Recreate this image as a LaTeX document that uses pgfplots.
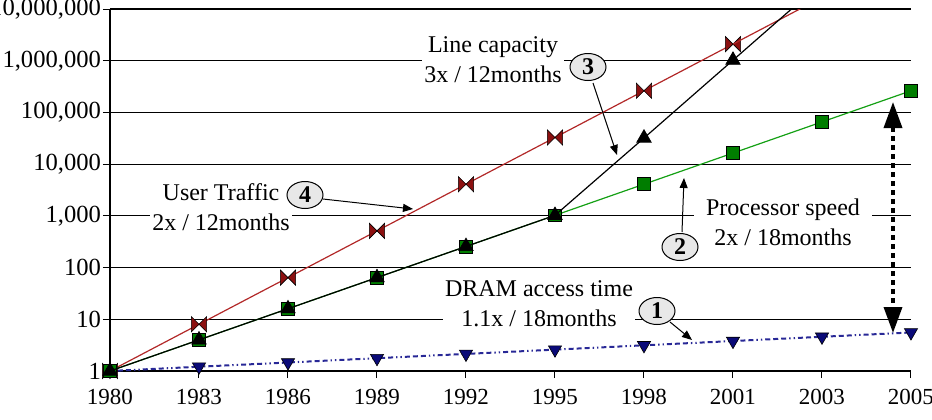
\documentclass[border=0pt]{standalone}
\usepackage{pgfplots}
\pgfplotsset{compat=1.18}
\usepackage{fontspec}
\setmainfont{Liberation Serif}
\usetikzlibrary{arrows.meta,shapes.geometric}

\definecolor{redline}{RGB}{178,40,40}
\definecolor{redmark}{RGB}{140,16,16}
\definecolor{greenline}{RGB}{20,160,20}
\definecolor{greenmark}{RGB}{0,125,0}
\definecolor{blueline}{RGB}{40,40,150}
\definecolor{bluemark}{RGB}{10,10,120}

\pgfdeclareplotmark{bowtie}{%
  \pgfpathmoveto{\pgfqpoint{-\pgfplotmarksize}{\pgfplotmarksize}}%
  \pgfpathlineto{\pgfqpoint{\pgfplotmarksize}{-\pgfplotmarksize}}%
  \pgfpathlineto{\pgfqpoint{\pgfplotmarksize}{\pgfplotmarksize}}%
  \pgfpathlineto{\pgfqpoint{-\pgfplotmarksize}{-\pgfplotmarksize}}%
  \pgfpathclose
  \pgfusepathqfillstroke}

\begin{document}
\begin{tikzpicture}
\begin{axis}[
  scale only axis, width=400.5pt, height=181pt,
  xmin=0, xmax=9, ymode=log, ymin=1, ymax=1e7,
  axis lines=left, axis line style={-, line width=0.6pt},
  xtick={0,...,9},
  xticklabels={1980,1983,1986,1989,1992,1995,1998,2001,2003,2005},
  ytick={1,10,100,1000,10000,100000,1000000,10000000},
  yticklabels={1,10,100,{1,000},{10,000},{100,000},{1,000,000},{10,000,000}},
  yminorticks=false,
  ymajorgrids, major grid style={black, line width=0.6pt},
  tick align=outside, major tick length=3.5pt,
  tick style={black, line width=0.5pt},
  xticklabel style={font=\fontsize{11.5}{13}\selectfont, yshift=-2pt},
  yticklabel style={font=\fontsize{12.3}{13}\selectfont, xshift=2.5pt},
  /pgf/number format/assume math mode=true,
  clip mode=individual,
]
% DRAM access time
\addplot[blueline, line width=1pt,
  dash pattern=on 2.5pt off 1.5pt on 2.5pt off 1.5pt on 2.5pt off 1.5pt on 0.7pt off 1.5pt on 0.7pt off 1.5pt,
  mark=triangle*, mark size=3.8pt,
  mark options={solid, rotate=180, fill=bluemark, draw=black, line width=0.3pt}]
  coordinates {(0,1)(1,1.21)(2,1.46)(3,1.77)(4,2.14)(5,2.59)(6,3.14)(7,3.80)(8,4.59)(9,5.56)};
% User traffic
\addplot[redline, line width=0.6pt, mark=bowtie, mark size=3.8pt,
  mark options={fill=redmark, draw=black, line width=0.3pt}]
  coordinates {(0,1)(1,8)(2,64)(3,512)(4,4096)(5,32768)(6,262144)(7,2097152)};
\addplot[redline, line width=0.6pt, no marks]
  coordinates {(7,2097152)(8,16777216)};
% Processor speed
\addplot[greenline, line width=0.6pt, mark=square*, mark size=3.2pt,
  mark options={fill=greenmark, draw=black, line width=0.3pt}]
  coordinates {(0,1)(1,4)(2,16)(3,64)(4,256)(5,1024)(6,4096)(7,16384)(8,65536)(9,262144)};
% Line capacity
\addplot[black, line width=0.6pt, mark=triangle*, mark size=4.2pt,
  mark options={fill=black, draw=black, line width=0.3pt}]
  coordinates {(0,1)(1,4)(2,16)(3,64)(4,256)(5,1024)(6,32000)(7,1024000)};
\addplot[black, line width=0.6pt, no marks]
  coordinates {(7,1024000)(8,32768000)};
\end{axis}

\begin{scope}[shift={(current axis.south west)}, x=0.5pt, y=-0.5pt, shift={(-110,-371)}]
\tikzset{
  lab/.style={fill=white, align=center, inner xsep=1pt, inner ysep=1pt,
    font=\fontsize{12}{15}\selectfont},
  num/.style={ellipse, draw=black, fill=gray!18, line width=0.5pt,
    minimum width=18pt, minimum height=13.5pt, inner sep=0pt,
    font=\bfseries\fontsize{12}{12}\selectfont},
  arr/.style={-{Triangle[length=5pt,width=4pt]}, line width=0.5pt, black}
}
\node[lab] at (493,60) {Line capacity\\3x / 12months};
\node[lab] at (221,207) {User Traffic\\2x / 12months};
\node[lab, inner xsep=6pt] at (783,222) {Processor speed\\2x / 18months};
\node[lab] at (539,304) {DRAM access time\\1.1x / 18months};

\draw[arr] (593,83) -- (617,155);
\draw[arr] (323,199) -- (413,209);
\draw[arr] (682,232) -- (684,178);
\draw[arr] (670,322) -- (692,340);

\node[num] at (588,67) {3};
\node[num] at (305,195) {4};
\node[num] at (680,247) {2};
\node[num] at (657,311) {1};

\draw[{Triangle[length=13pt,width=9pt]}-{Triangle[length=13pt,width=9pt]},
  line width=1.75pt, dash pattern=on 2.5pt off 2pt] (893,102) -- (893,333);
\end{scope}

\pgfresetboundingbox
\path[use as bounding box] ([xshift=-55pt,yshift=-24pt]current axis.south west)
  rectangle ([xshift=411pt,yshift=185.5pt]current axis.south west);
\end{tikzpicture}
\end{document}
